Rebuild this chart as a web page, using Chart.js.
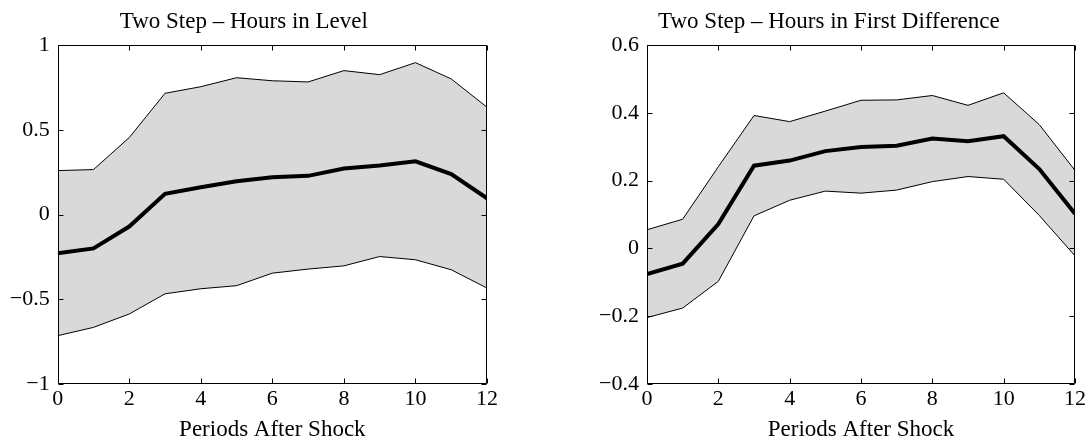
<!DOCTYPE html>
<html>
<head>
<meta charset="utf-8">
<script src="https://cdn.jsdelivr.net/npm/chart.js@4"></script>
<style>
html, body { margin: 0; padding: 0; background: #fff; overflow: hidden; }
#izq { position: absolute; left: 0; top: 0; width: 500px; height: 441px; }
#der { position: absolute; left: 580px; top: 0; width: 508px; height: 441px; }
</style>
</head>
<body>
<div id="izq"><canvas id="nivel"></canvas></div>
<div id="der"><canvas id="diferencia"></canvas></div>
<script>
// Periodos tras el shock
var periods = [0, 1, 2, 3, 4, 5, 6, 7, 8, 9, 10, 11, 12];
var xTicks = [0, 2, 4, 6, 8, 10, 12];

// Horas en nivel
var levelUpper = [0.259, 0.265, 0.454, 0.715, 0.754, 0.807, 0.789, 0.782, 0.849, 0.825, 0.896, 0.800, 0.633];
var levelMean  = [-0.228, -0.200, -0.071, 0.122, 0.161, 0.196, 0.220, 0.228, 0.271, 0.289, 0.314, 0.238, 0.096];
var levelLower = [-0.715, -0.666, -0.587, -0.468, -0.438, -0.420, -0.346, -0.322, -0.303, -0.248, -0.267, -0.326, -0.434];
var levelTicks = [-1, -0.5, 0, 0.5, 1];

// Horas en primera diferencia
var diffUpper = [0.055, 0.086, 0.241, 0.392, 0.374, 0.405, 0.437, 0.438, 0.451, 0.422, 0.459, 0.365, 0.230];
var diffMean  = [-0.076, -0.045, 0.072, 0.244, 0.259, 0.287, 0.299, 0.303, 0.324, 0.316, 0.331, 0.234, 0.102];
var diffLower = [-0.204, -0.176, -0.097, 0.096, 0.142, 0.169, 0.163, 0.172, 0.197, 0.212, 0.204, 0.097, -0.022];
var diffTicks = [-0.4, -0.2, 0, 0.2, 0.4, 0.6];

Chart.defaults.font.family = "'Liberation Serif', 'Times New Roman', serif";
Chart.defaults.font.size = 22;
Chart.defaults.color = '#000';

function pts(vals) {
    return periods.map(function (p, i) { return { x: p, y: vals[i] }; });
}

function fmt(v) {
    var s = String(Number(v.toFixed(2)));
    return s.replace('-', '\u2212');
}

// Marco y marcas hacia dentro, estilo MATLAB
var marco = {
    id: 'marco',
    afterDatasetsDraw: function (chart) {
        var ctx = chart.ctx, a = chart.chartArea;
        var l = Math.round(a.left) + 0.5, r = Math.round(a.right) - 0.5;
        var t = Math.round(a.top) + 0.5, b = Math.round(a.bottom) - 0.5;
        ctx.save();
        ctx.strokeStyle = '#000';
        ctx.lineWidth = 1;
        ctx.beginPath();
        ctx.rect(l, t, r - l, b - t);
        chart.scales.x.ticks.forEach(function (tk) {
            var px = Math.round(chart.scales.x.getPixelForValue(tk.value)) + 0.5;
            ctx.moveTo(px, b); ctx.lineTo(px, b - 5);
            ctx.moveTo(px, t); ctx.lineTo(px, t + 5);
        });
        chart.scales.y.ticks.forEach(function (tk) {
            var py = Math.round(chart.scales.y.getPixelForValue(tk.value)) + 0.5;
            ctx.moveTo(l, py); ctx.lineTo(l + 5, py);
            ctx.moveTo(r, py); ctx.lineTo(r - 5, py);
        });
        ctx.stroke();
        ctx.restore();
    }
};

function grafica(id, titulo, upper, mean, lower, yTicks, yWidth, padRight) {
    return new Chart(id, {
        type: 'line',
        data: {
            datasets: [
                { data: pts(mean), borderColor: '#000', borderWidth: 4, pointRadius: 0, fill: false },
                { data: pts(upper), borderColor: '#000', borderWidth: 1, pointRadius: 0,
                  backgroundColor: '#d9d9d9', fill: '+1' },
                { data: pts(lower), borderColor: '#000', borderWidth: 1, pointRadius: 0, fill: false }
            ]
        },
        options: {
            responsive: true,
            maintainAspectRatio: false,
            animation: false,
            layout: { autoPadding: false, padding: { left: 0, right: padRight, top: 0, bottom: 0 } },
            plugins: {
                legend: { display: false },
                tooltip: { enabled: false },
                filler: { drawTime: 'beforeDatasetsDraw' },
                title: {
                    display: true, text: titulo, color: '#000',
                    font: { size: 23, weight: 'normal', lineHeight: 1.2 },
                    padding: { top: 8, bottom: 9.4 }
                }
            },
            scales: {
                x: {
                    type: 'linear', min: 0, max: 12,
                    grid: { display: false, drawTicks: false },
                    border: { display: false },
                    afterBuildTicks: function (s) { s.ticks = xTicks.map(function (v) { return { value: v }; }); },
                    afterFit: function (s) { s.height = 57; },
                    ticks: { padding: 2, maxRotation: 0, callback: function (v) { return fmt(v); } },
                    title: { display: true, text: 'Periods After Shock', font: { size: 23, lineHeight: 1 },
                             padding: { top: 0, bottom: 0 } }
                },
                y: {
                    min: yTicks[0], max: yTicks[yTicks.length - 1],
                    grid: { display: false, drawTicks: false },
                    border: { display: false },
                    afterBuildTicks: function (s) { s.ticks = yTicks.map(function (v) { return { value: v }; }); },
                    afterFit: function (s) { s.width = yWidth; },
                    ticks: { padding: 8, callback: function (v) { return fmt(v); } }
                }
            }
        },
        plugins: [marco]
    });
}

grafica('nivel', 'Two Step \u2013 Hours in Level', levelUpper, levelMean, levelLower, levelTicks, 57.7, 12.3);
grafica('diferencia', 'Two Step \u2013 Hours in First Difference', diffUpper, diffMean, diffLower, diffTicks, 67, 10.3);
</script>
</body>
</html>
